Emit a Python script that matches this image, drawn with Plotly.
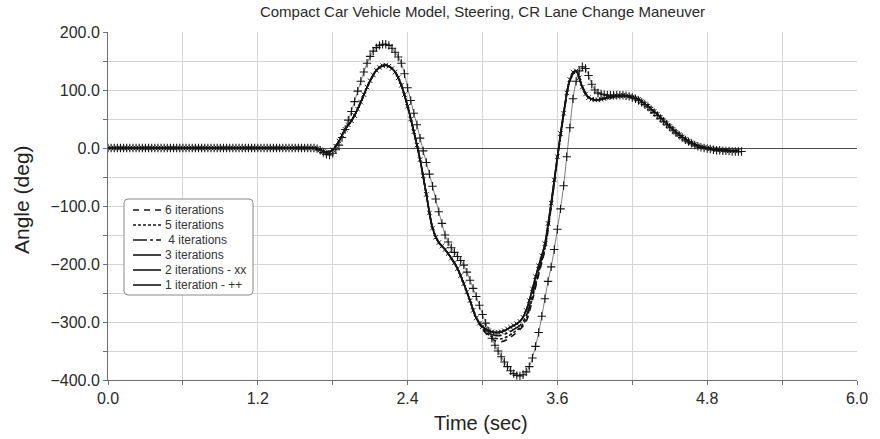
import numpy as np
import plotly.graph_objects as go

# ---------------------------------------------------------------------------
# Steering angle (deg) vs time (sec) for the CR lane change maneuver
# ---------------------------------------------------------------------------

# sample times: 0.025 s for the marker series, 0.05 s for the plain lines
T_FINE_1 = np.round(np.arange(0, 204) * 0.025, 3)   # 0 .. 5.075 s
T_FINE_2 = np.round(np.arange(0, 203) * 0.025, 3)   # 0 .. 5.05 s
T_COARSE = np.round(np.arange(0, 102) * 0.05, 3)    # 0 .. 5.05 s

# 1 iteration (++ markers), 0.025 s steps
ITER_1 = [
    0, 0, 0, 0, 0, 0, 0, 0, 0, 0,
    0, 0, 0, 0, 0, 0, 0, 0, 0, 0,
    0, 0, 0, 0, 0, 0, 0, 0, 0, 0,
    0, 0, 0, 0, 0, 0, 0, 0, 0, 0,
    0, 0, 0, 0, 0, 0, 0, 0, 0, 0,
    0, 0, 0, 0, 0, 0, 0, 0, 0, 0,
    0, 0, 0, 0, 0, 0, 0, -1, -4, -8,
    -11, -12, -9, -3, 5, 18, 32, 48, 63, 80,
    98, 115, 131, 146, 158, 167, 173, 177, 179, 179,
    177, 172, 165, 157, 146, 128, 104, 82, 60, 40,
    17, -5, -25, -45, -66, -88, -110, -130, -150, -162,
    -172, -180, -187, -194, -202, -214, -228, -242, -256, -271,
    -287, -302, -316, -328, -340, -350, -360, -369, -377, -384,
    -389, -392, -393, -391, -386, -377, -362, -342, -318, -290,
    -260, -230, -205, -175, -140, -105, -65, -15, 35, 85,
    115, 133, 140, 137, 125, 110, 100, 95, 93, 92,
    91, 91, 91, 91, 91, 91, 90, 89, 87, 85,
    82, 79, 75, 71, 66, 61, 56, 51, 46, 41,
    36, 31, 26, 22, 18, 14, 11, 8, 5, 3,
    1, 0, -1, -2, -3, -4, -4, -5, -5, -5,
    -6, -6, -6, -6,
]

# 2 iterations (xx markers), 0.025 s steps
ITER_2 = [
    0, 0, 0, 0, 0, 0, 0, 0, 0, 0,
    0, 0, 0, 0, 0, 0, 0, 0, 0, 0,
    0, 0, 0, 0, 0, 0, 0, 0, 0, 0,
    0, 0, 0, 0, 0, 0, 0, 0, 0, 0,
    0, 0, 0, 0, 0, 0, 0, 0, 0, 0,
    0, 0, 0, 0, 0, 0, 0, 0, 0, 0,
    0, 0, 0, 0, 0, 0, 0, -1, -3, -6,
    -8, -7, -3, 3, 12, 22, 32, 40, 47, 56,
    67, 79, 92, 105, 116, 126, 134, 139, 142, 143,
    141, 137, 131, 121, 108, 92, 72, 50, 28, 5,
    -20, -48, -80, -112, -138, -154, -163, -169, -175, -182,
    -190, -198, -208, -220, -234, -248, -263, -280, -293, -302,
    -308, -312, -315, -317, -318, -318, -317, -315, -312, -309,
    -306, -303, -299, -292, -280, -263, -243, -222, -203, -186,
    -165, -130, -95, -55, -15, 25, 60, 95, 118, 131,
    133, 121, 105, 93, 87, 84, 83, 83, 84, 85,
    87, 88, 89, 90, 90, 91, 90, 89, 88, 86,
    84, 80, 76, 72, 67, 63, 58, 53, 47, 42,
    37, 32, 27, 23, 19, 15, 12, 9, 6, 4,
    2, 1, 0, -1, -2, -3, -3, -4, -4, -5,
    -5, -5, -5,
]

# 3..6 iterations, 0.05 s steps
ITER_3 = [
    0, 0, 0, 0, 0, 0, 0, 0, 0, 0,
    0, 0, 0, 0, 0, 0, 0, 0, 0, 0,
    0, 0, 0, 0, 0, 0, 0, 0, 0, 0,
    0, 0, 0, 0, -3, -8, -3, 12, 32, 47,
    67, 92, 116, 134, 142, 141, 131, 108, 72, 28,
    -20, -80, -138, -163, -175, -190, -208, -234, -263, -293,
    -308, -315, -318, -317, -312, -306, -299, -280, -243, -203,
    -165, -95, -15, 60, 118, 133, 105, 87, 83, 84,
    87, 89, 90, 90, 88, 84, 76, 67, 58, 47,
    37, 27, 19, 12, 6, 2, 0, -2, -3, -4,
    -5, -5,
]
ITER_4 = [
    0, 0, 0, 0, 0, 0, 0, 0, 0, 0,
    0, 0, 0, 0, 0, 0, 0, 0, 0, 0,
    0, 0, 0, 0, 0, 0, 0, 0, 0, 0,
    0, 0, 0, 0, -3, -8, -3, 12, 32, 47,
    67, 92, 116, 134, 142, 141, 131, 108, 72, 28,
    -20, -80, -138, -163, -175, -190, -208, -234, -263, -293,
    -310, -319, -323, -323, -319, -313, -306, -290, -252, -210,
    -170, -98, -17, 58, 117, 133, 105, 87, 83, 84,
    87, 89, 90, 90, 88, 84, 76, 67, 58, 47,
    37, 27, 19, 12, 6, 2, 0, -2, -3, -4,
    -5, -5,
]
ITER_5 = [
    0, 0, 0, 0, 0, 0, 0, 0, 0, 0,
    0, 0, 0, 0, 0, 0, 0, 0, 0, 0,
    0, 0, 0, 0, 0, 0, 0, 0, 0, 0,
    0, 0, 0, 0, -3, -8, -3, 12, 32, 47,
    67, 92, 116, 134, 142, 141, 131, 108, 72, 28,
    -20, -80, -138, -163, -175, -190, -208, -234, -263, -293,
    -311, -322, -328, -329, -325, -318, -310, -295, -258, -215,
    -173, -100, -18, 57, 116, 133, 105, 87, 83, 84,
    87, 89, 90, 90, 88, 84, 76, 67, 58, 47,
    37, 27, 19, 12, 6, 2, 0, -2, -3, -4,
    -5, -5,
]
ITER_6 = [
    0, 0, 0, 0, 0, 0, 0, 0, 0, 0,
    0, 0, 0, 0, 0, 0, 0, 0, 0, 0,
    0, 0, 0, 0, 0, 0, 0, 0, 0, 0,
    0, 0, 0, 0, -3, -8, -3, 12, 32, 47,
    67, 92, 116, 134, 142, 141, 131, 108, 72, 28,
    -20, -80, -138, -163, -175, -190, -208, -234, -263, -293,
    -312, -325, -332, -334, -330, -322, -313, -299, -262, -218,
    -175, -102, -20, 56, 116, 133, 105, 87, 83, 84,
    87, 89, 90, 90, 88, 84, 76, 67, 58, 47,
    37, 27, 19, 12, 6, 2, 0, -2, -3, -4,
    -5, -5,
]

LEGEND_LABELS = ["6 iterations", "5 iterations", "\u00a04 iterations",
                 "3 iterations", "2 iterations - xx", "1 iteration - ++"]
LEGEND_DASHES = ["6px,5px", "3px,2px", "14px,3px,3px,3px", "solid", "solid", "solid"]

TITLE = "Compact Car Vehicle Model, Steering, CR Lane Change Maneuver"
X_TITLE = "Time (sec)"
Y_TITLE = "Angle (deg)"

FONT = "Arial, 'Liberation Sans', sans-serif"
INK = "#151515"

# figure geometry (pixels)
W, H = 880, 439
L, R, T, B = 108, 23, 32, 59
PW, PH = W - L - R, H - T - B


def px(xp):
    return (xp - L) / PW


def py(yp):
    return (H - B - yp) / PH


fig = go.Figure()

line_series = [
    (T_COARSE, ITER_6, LEGEND_DASHES[0]),
    (T_COARSE, ITER_5, LEGEND_DASHES[1]),
    (T_COARSE, ITER_4, LEGEND_DASHES[2]),
    (T_COARSE, ITER_3, LEGEND_DASHES[3]),
]
for t, v, dash in line_series:
    fig.add_trace(go.Scatter(
        x=t, y=v, mode="lines",
        line=dict(color=INK, width=1.6, dash=dash, shape="spline", smoothing=0.8),
        showlegend=False, hoverinfo="skip",
    ))

fig.add_trace(go.Scatter(
    x=T_FINE_2, y=ITER_2, mode="lines+markers",
    line=dict(color=INK, width=1.5, shape="spline", smoothing=0.6),
    marker=dict(symbol="x-thin", size=4.5, line=dict(color=INK, width=1)),
    showlegend=False, hoverinfo="skip",
))
fig.add_trace(go.Scatter(
    x=T_FINE_1, y=ITER_1, mode="lines+markers",
    line=dict(color="#444444", width=0.7, shape="spline", smoothing=0.6),
    marker=dict(symbol="cross-thin", size=6, line=dict(color=INK, width=1.1)),
    showlegend=False, hoverinfo="skip",
))

# legend box with rounded corners
bx0, bx1, by0, by1, rad = px(124), px(253), py(199), py(295), 4
rx, ry = rad / PW, rad / PH
box_path = (
    f"M {bx0 + rx} {by0} L {bx1 - rx} {by0} Q {bx1} {by0} {bx1} {by0 - ry} "
    f"L {bx1} {by1 + ry} Q {bx1} {by1} {bx1 - rx} {by1} "
    f"L {bx0 + rx} {by1} Q {bx0} {by1} {bx0} {by1 + ry} "
    f"L {bx0} {by0 - ry} Q {bx0} {by0} {bx0 + rx} {by0} Z"
)
shapes = [dict(type="path", xref="paper", yref="paper", path=box_path,
               line=dict(color="#8a8a8a", width=1), fillcolor="white", layer="above")]
annotations = []
for i, (lab, dash) in enumerate(zip(LEGEND_LABELS, LEGEND_DASHES)):
    yc = 210 + 15 * i
    shapes.append(dict(type="line", xref="paper", yref="paper",
                       x0=px(133), x1=px(161), y0=py(yc), y1=py(yc),
                       line=dict(color=INK, width=1.6, dash=dash), layer="above"))
    annotations.append(dict(text=lab, xref="paper", yref="paper",
                            x=px(163), y=py(yc), xanchor="left", yanchor="middle",
                            showarrow=False, font=dict(family=FONT, size=12, color="#333")))

# axis titles
annotations.append(dict(text=X_TITLE, xref="paper", yref="paper", x=px(481), y=py(423),
                        xanchor="center", yanchor="middle", showarrow=False,
                        font=dict(family=FONT, size=20, color="#222")))
annotations.append(dict(text=Y_TITLE, xref="paper", yref="paper", x=px(21), y=py(200),
                        xanchor="center", yanchor="middle", showarrow=False, textangle=-90,
                        font=dict(family=FONT, size=21, color="#222")))

grid = "#d4d4d4"
axis_col = "#6e6e6e"
fig.update_layout(
    width=W, height=H, autosize=False,
    margin=dict(l=L, r=R, t=T, b=B, pad=0),
    paper_bgcolor="white", plot_bgcolor="white",
    title=dict(text=TITLE, x=(L + PW / 2) / W, y=1 - 12 / H, xanchor="center",
               yanchor="middle", font=dict(family=FONT, size=15, color="#2a2a2a")),
    font=dict(family=FONT, color="#222"),
    shapes=shapes, annotations=annotations,
    xaxis=dict(range=[0, 6], tick0=0, dtick=1.2, tickformat=".1f",
               showgrid=True, gridcolor=grid, gridwidth=1,
               minor=dict(dtick=0.6, showgrid=True, gridcolor=grid, ticks="outside",
                          ticklen=4, tickcolor=axis_col),
               ticks="outside", ticklen=4, tickcolor=axis_col,
               showline=True, linecolor=axis_col, linewidth=1,
               zeroline=False, tickfont=dict(family=FONT, size=16, color="#2a2a2a")),
    yaxis=dict(range=[-400, 200], tick0=0, dtick=100, tickformat=".1f",
               showgrid=True, gridcolor=grid, gridwidth=1,
               minor=dict(dtick=50, showgrid=True, gridcolor=grid, ticks="outside",
                          ticklen=4, tickcolor=axis_col),
               ticks="outside", ticklen=4, tickcolor=axis_col,
               showline=True, linecolor=axis_col, linewidth=1,
               zeroline=True, zerolinecolor="#4a4a4a", zerolinewidth=1,
               tickfont=dict(family=FONT, size=16, color="#2a2a2a")),
)

fig.write_html("out.html")
